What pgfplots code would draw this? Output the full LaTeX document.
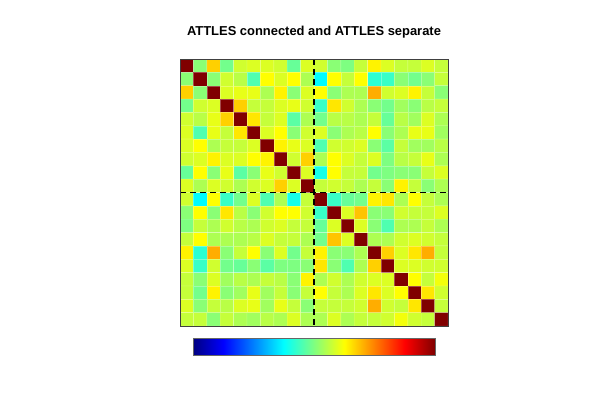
\documentclass[border=0pt]{standalone}
\usepackage{pgfplots}
\pgfplotsset{compat=1.18}
\usepackage{fontspec}
\setmainfont{Liberation Sans}
\begin{document}
\begin{tikzpicture}
\path[use as bounding box] (0,0) rectangle (450pt,300pt);
\begin{axis}[at={(135pt,55.5pt)}, anchor=south west, scale only axis,
  width=201pt, height=200.25pt,
  xmin=-0.5, xmax=19.5, ymin=-0.5, ymax=19.5, y dir=reverse,
  xtick=\empty, ytick=\empty, axis on top,
  axis line style={black!75, line width=0.6pt},
  colormap/jet, point meta min=0.056, point meta max=0.926,
  colorbar horizontal,
  colorbar style={at={(parent axis.south)}, anchor=north, yshift=-0.75pt,
    width=181.5pt, height=12.75pt, scale only axis,
    xtick=\empty, ytick=\empty, axis line style={black!60}},
  title={ATTLES connected and ATTLES separate},
  title style={font=\bfseries\fontsize{9.7}{11}\selectfont, anchor=base, at={(0.5,1)}, yshift=12pt},
]
\addplot[matrix plot*, mesh/cols=20, point meta=explicit, shader=faceted, faceted color=white, draw opacity=0.3, line width=0.3pt] coordinates {
(0,0)[1] (1,0)[.50] (2,0)[.64] (3,0)[.48] (4,0)[.56] (5,0)[.57] (6,0)[.57] (7,0)[.56] (8,0)[.47] (9,0)[.57] (10,0)[.56] (11,0)[.50] (12,0)[.49] (13,0)[.55] (14,0)[.61] (15,0)[.57] (16,0)[.55] (17,0)[.55] (18,0)[.57] (19,0)[.55]

(0,1)[.50] (1,1)[1] (2,1)[.50] (3,1)[.56] (4,1)[.54] (5,1)[.45] (6,1)[.60] (7,1)[.57] (8,1)[.60] (9,1)[.53] (10,1)[.38] (11,1)[.60] (12,1)[.55] (13,1)[.60] (14,1)[.42] (15,1)[.43] (16,1)[.50] (17,1)[.48] (18,1)[.50] (19,1)[.55]

(0,2)[.64] (1,2)[.50] (2,2)[1] (3,2)[.57] (4,2)[.58] (5,2)[.58] (6,2)[.53] (7,2)[.61] (8,2)[.50] (9,2)[.57] (10,2)[.60] (11,2)[.50] (12,2)[.53] (13,2)[.53] (14,2)[.67] (15,2)[.56] (16,2)[.57] (17,2)[.61] (18,2)[.55] (19,2)[.50]

(0,3)[.48] (1,3)[.56] (2,3)[.57] (3,3)[1] (4,3)[.64] (5,3)[.55] (6,3)[.55] (7,3)[.57] (8,3)[.58] (9,3)[.56] (10,3)[.43] (11,3)[.62] (12,3)[.56] (13,3)[.53] (14,3)[.50] (15,3)[.48] (16,3)[.52] (17,3)[.50] (18,3)[.54] (19,3)[.55]

(0,4)[.56] (1,4)[.54] (2,4)[.58] (3,4)[.64] (4,4)[1] (5,4)[.62] (6,4)[.55] (7,4)[.57] (8,4)[.46] (9,4)[.53] (10,4)[.48] (11,4)[.54] (12,4)[.54] (13,4)[.53] (14,4)[.55] (15,4)[.47] (16,4)[.54] (17,4)[.52] (18,4)[.57] (19,4)[.53]

(0,5)[.57] (1,5)[.45] (2,5)[.58] (3,5)[.55] (4,5)[.62] (5,5)[1] (6,5)[.57] (7,5)[.60] (8,5)[.50] (9,5)[.56] (10,5)[.57] (11,5)[.50] (12,5)[.53] (13,5)[.54] (14,5)[.60] (15,5)[.50] (16,5)[.53] (17,5)[.58] (18,5)[.58] (19,5)[.52]

(0,6)[.57] (1,6)[.60] (2,6)[.53] (3,6)[.55] (4,6)[.55] (5,6)[.57] (6,6)[1] (7,6)[.61] (8,6)[.58] (9,6)[.57] (10,6)[.45] (11,6)[.56] (12,6)[.56] (13,6)[.57] (14,6)[.50] (15,6)[.46] (16,6)[.55] (17,6)[.52] (18,6)[.52] (19,6)[.54]

(0,7)[.56] (1,7)[.57] (2,7)[.61] (3,7)[.57] (4,7)[.57] (5,7)[.60] (6,7)[.61] (7,7)[1] (8,7)[.56] (9,7)[.64] (10,7)[.53] (11,7)[.60] (12,7)[.57] (13,7)[.55] (14,7)[.57] (15,7)[.49] (16,7)[.54] (17,7)[.55] (18,7)[.58] (19,7)[.53]

(0,8)[.47] (1,8)[.60] (2,8)[.50] (3,8)[.58] (4,8)[.46] (5,8)[.50] (6,8)[.58] (7,8)[.56] (8,8)[1] (9,8)[.57] (10,8)[.40] (11,8)[.60] (12,8)[.55] (13,8)[.55] (14,8)[.48] (15,8)[.49] (16,8)[.50] (17,8)[.50] (18,8)[.55] (19,8)[.57]

(0,9)[.57] (1,9)[.53] (2,9)[.57] (3,9)[.56] (4,9)[.53] (5,9)[.56] (6,9)[.57] (7,9)[.64] (8,9)[.57] (9,9)[1] (10,9)[.55] (11,9)[.56] (12,9)[.55] (13,9)[.53] (14,9)[.55] (15,9)[.50] (16,9)[.61] (17,9)[.55] (18,9)[.50] (19,9)[.53]

(0,10)[.56] (1,10)[.38] (2,10)[.60] (3,10)[.43] (4,10)[.48] (5,10)[.57] (6,10)[.45] (7,10)[.53] (8,10)[.40] (9,10)[.55] (10,10)[1] (11,10)[.43] (12,10)[.47] (13,10)[.48] (14,10)[.61] (15,10)[.62] (16,10)[.53] (17,10)[.60] (18,10)[.55] (19,10)[.53]

(0,11)[.50] (1,11)[.60] (2,11)[.50] (3,11)[.62] (4,11)[.54] (5,11)[.50] (6,11)[.56] (7,11)[.60] (8,11)[.60] (9,11)[.56] (10,11)[.43] (11,11)[1] (12,11)[.57] (13,11)[.65] (14,11)[.50] (15,11)[.50] (16,11)[.56] (17,11)[.55] (18,11)[.55] (19,11)[.57]

(0,12)[.49] (1,12)[.55] (2,12)[.53] (3,12)[.56] (4,12)[.54] (5,12)[.53] (6,12)[.56] (7,12)[.57] (8,12)[.55] (9,12)[.55] (10,12)[.47] (11,12)[.57] (12,12)[1] (13,12)[.57] (14,12)[.50] (15,12)[.45] (16,12)[.53] (17,12)[.53] (18,12)[.55] (19,12)[.53]

(0,13)[.55] (1,13)[.60] (2,13)[.53] (3,13)[.53] (4,13)[.53] (5,13)[.54] (6,13)[.57] (7,13)[.55] (8,13)[.55] (9,13)[.53] (10,13)[.48] (11,13)[.65] (12,13)[.57] (13,13)[1] (14,13)[.53] (15,13)[.53] (16,13)[.56] (17,13)[.57] (18,13)[.56] (19,13)[.55]

(0,14)[.61] (1,14)[.42] (2,14)[.67] (3,14)[.50] (4,14)[.55] (5,14)[.60] (6,14)[.50] (7,14)[.57] (8,14)[.48] (9,14)[.55] (10,14)[.61] (11,14)[.50] (12,14)[.50] (13,14)[.53] (14,14)[1] (15,14)[.64] (16,14)[.57] (17,14)[.62] (18,14)[.67] (19,14)[.55]

(0,15)[.57] (1,15)[.43] (2,15)[.56] (3,15)[.48] (4,15)[.47] (5,15)[.50] (6,15)[.46] (7,15)[.49] (8,15)[.49] (9,15)[.50] (10,15)[.62] (11,15)[.50] (12,15)[.45] (13,15)[.53] (14,15)[.64] (15,15)[1] (16,15)[.57] (17,15)[.57] (18,15)[.56] (19,15)[.56]

(0,16)[.55] (1,16)[.50] (2,16)[.57] (3,16)[.52] (4,16)[.54] (5,16)[.53] (6,16)[.55] (7,16)[.54] (8,16)[.50] (9,16)[.61] (10,16)[.53] (11,16)[.56] (12,16)[.53] (13,16)[.56] (14,16)[.57] (15,16)[.57] (16,16)[1] (17,16)[.60] (18,16)[.55] (19,16)[.59]

(0,17)[.55] (1,17)[.48] (2,17)[.61] (3,17)[.50] (4,17)[.52] (5,17)[.58] (6,17)[.52] (7,17)[.55] (8,17)[.50] (9,17)[.55] (10,17)[.60] (11,17)[.55] (12,17)[.53] (13,17)[.57] (14,17)[.62] (15,17)[.57] (16,17)[.60] (17,17)[1] (18,17)[.62] (19,17)[.56]

(0,18)[.57] (1,18)[.50] (2,18)[.55] (3,18)[.54] (4,18)[.57] (5,18)[.58] (6,18)[.52] (7,18)[.58] (8,18)[.55] (9,18)[.50] (10,18)[.55] (11,18)[.55] (12,18)[.55] (13,18)[.56] (14,18)[.67] (15,18)[.56] (16,18)[.55] (17,18)[.62] (18,18)[1] (19,18)[.55]

(0,19)[.55] (1,19)[.55] (2,19)[.50] (3,19)[.55] (4,19)[.53] (5,19)[.52] (6,19)[.54] (7,19)[.53] (8,19)[.57] (9,19)[.53] (10,19)[.53] (11,19)[.57] (12,19)[.53] (13,19)[.55] (14,19)[.55] (15,19)[.56] (16,19)[.59] (17,19)[.56] (18,19)[.55] (19,19)[1]
};
\draw[black, line width=1.1pt, dash pattern=on 4.5pt off 3pt] (axis cs:9.5,-0.5) -- (axis cs:9.5,19.5);
\draw[black, line width=1.1pt, dash pattern=on 4.5pt off 3pt] (axis cs:-0.5,9.5) -- (axis cs:19.5,9.5);
\end{axis}
\end{tikzpicture}
\end{document}
